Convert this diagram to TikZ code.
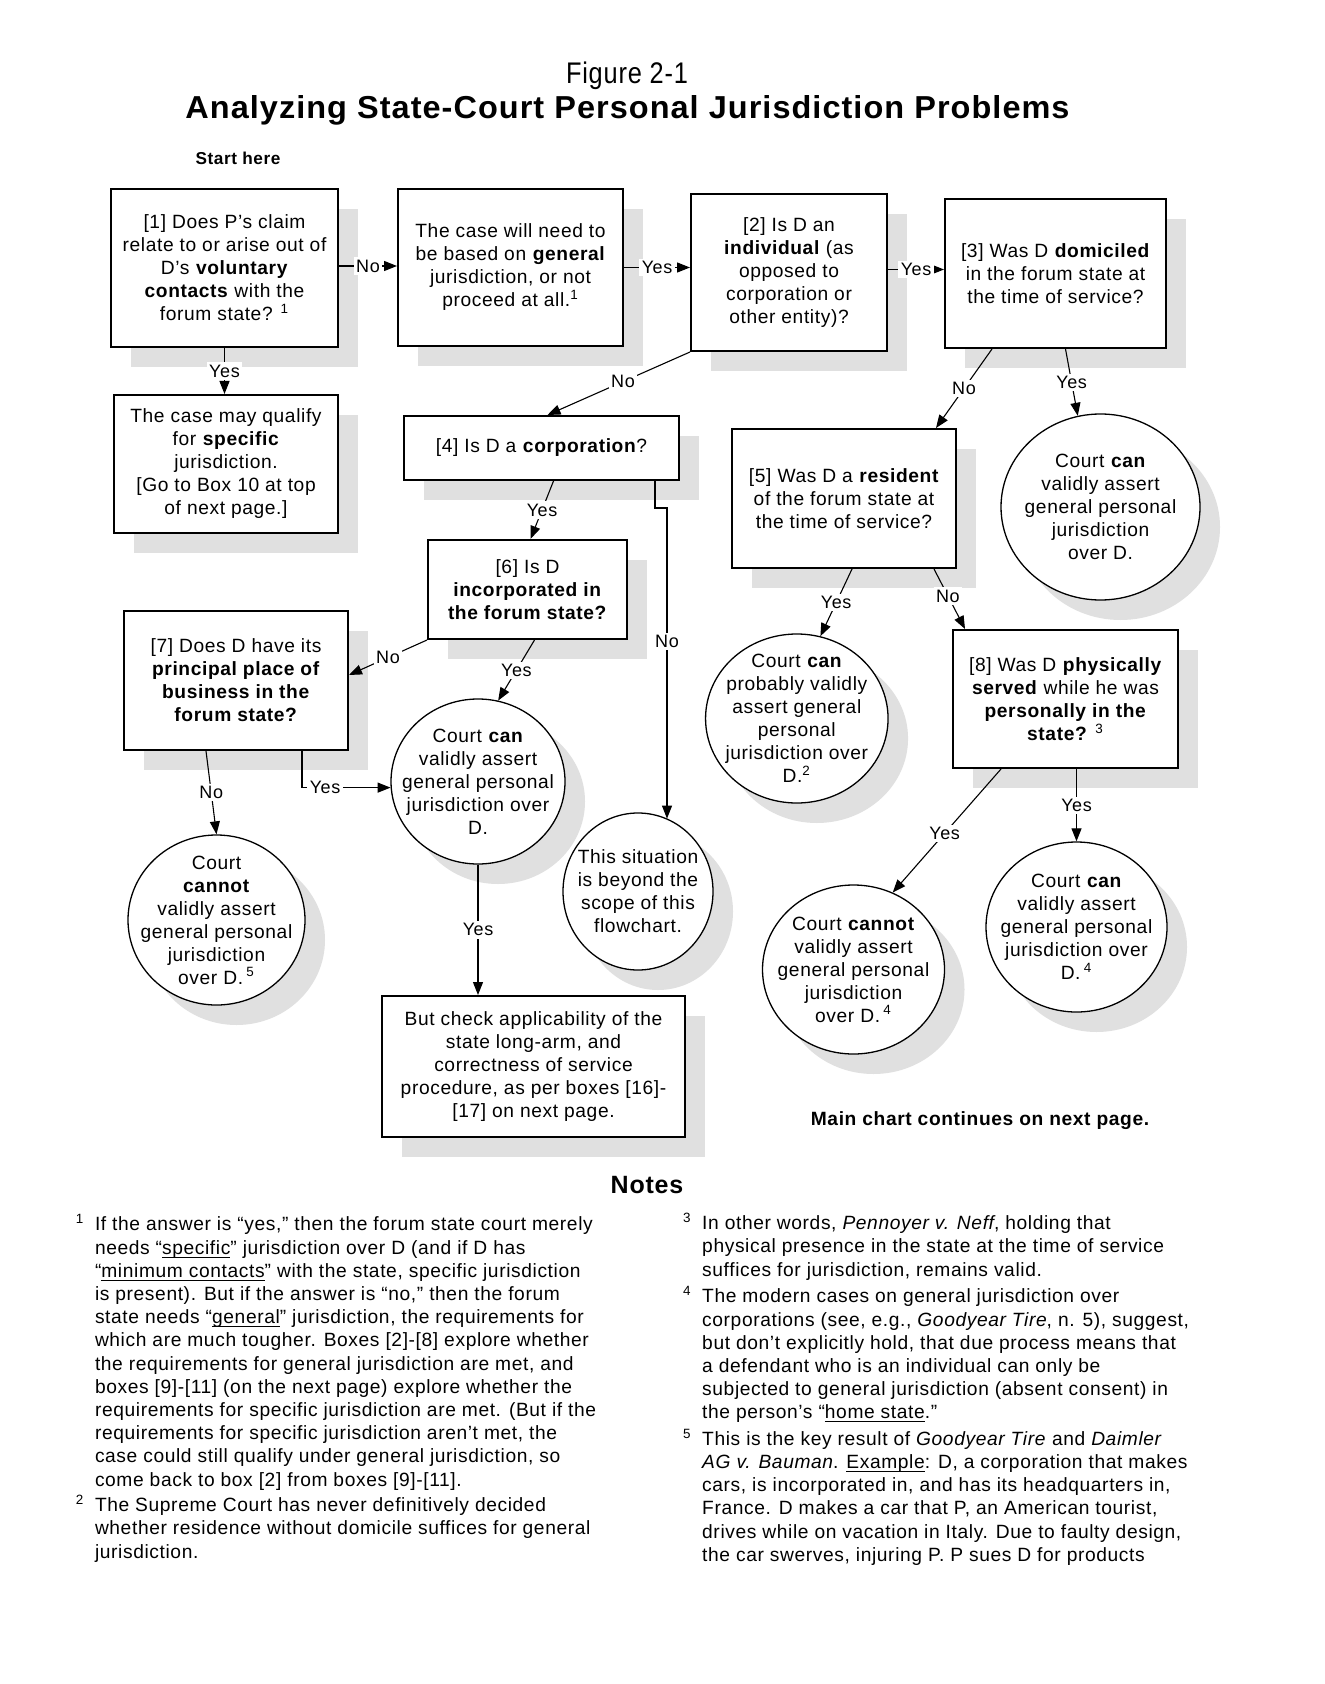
\documentclass[tikz,border=0pt]{standalone}
\usepackage{fontspec}
\setmainfont{Liberation Sans}[LetterSpace=3.2]
\usepackage{graphicx}
\usetikzlibrary{shapes.geometric,shadows,arrows.meta}
\definecolor{shadowgray}{RGB}{224,224,224}
\newcommand\myBoxFont{\fontsize{9.6pt}{11.5pt}\selectfont}
\newcommand\myNoteFont{\fontsize{9.6pt}{11.6pt}\selectfont}
\newcommand\myLabFont{\fontsize{9pt}{10pt}\selectfont}
\newcommand\myFn[1]{\textsuperscript{#1}}
\newsavebox\myUlBox
\newcommand\myUl[1]{\sbox\myUlBox{#1}\rlap{\rule[-1.7pt]{\wd\myUlBox}{0.5pt}}\usebox\myUlBox}
\tikzset{
  shad/.style={drop shadow={shadow xshift=10pt, shadow yshift=-10pt, fill=shadowgray, draw=none, opacity=1}},
  box/.style={shad, draw=black, line width=1pt, fill=white, rectangle, inner sep=0pt, align=center, font=\myBoxFont},
  ell/.style={shad, draw=black, line width=0.65pt, fill=white, ellipse, inner sep=0pt},
  etxt/.style={align=center, font=\myBoxFont, inner sep=0pt},
  lab/.style={fill=white, inner sep=1.2pt, font=\myLabFont},
  arr/.style={draw=black, line width=0.55pt, -{Triangle[length=6.5pt,width=5pt]}},
  plain/.style={inner sep=0pt},
}
\begin{document}
\begin{tikzpicture}[x=0.5pt,y=-0.5pt]
\useasboundingbox (0,0) rectangle (1325,1684);
\fill[white] (0,0) rectangle (1325,1684);

% titles
\node[plain, anchor=base] (fig) at (627,83.5) {\resizebox{61pt}{10.8pt}{Figure 2-1}};
\node[plain, anchor=base] (title) at (627.5,119) {\resizebox{442pt}{11.5pt}{\bfseries Analyzing State-Court Personal Jurisdiction Problems}};
\node[plain, font=\fontsize{8.6pt}{10pt}\selectfont\bfseries] (start) at (238,158) {Start here};

% nodes
\node[box, minimum width=113.5pt, minimum height=79pt] (box1) at (224.5,268)
  {[1] Does P’s claim\\relate to or arise out of\\D’s \textbf{voluntary}\\\textbf{contacts} with the\\forum state? \myFn{1}};
\node[box, minimum width=112.5pt, minimum height=78.5pt] (box2) at (510.5,267.5)
  {The case will need to\\be based on \textbf{general}\\jurisdiction, or not\\proceed at all.\myFn{1}};
\node[box, minimum width=98pt, minimum height=78.5pt] (b2) at (789,272.5)
  {[2] Is D an\\\textbf{individual} (as\\opposed to\\corporation or\\other entity)?};
\node[box, minimum width=110.5pt, minimum height=74.5pt] (b3) at (1055.5,273.5)
  {[3] Was D \textbf{domiciled}\\in the forum state at\\the time of service?};
\node[box, minimum width=112pt, minimum height=69pt] (mayq) at (226,464)
  {The case may qualify\\for \textbf{specific}\\jurisdiction.\\{}[Go to Box 10 at top\\of next page.]};
\node[box, minimum width=137.5pt, minimum height=32pt] (b4) at (541.5,448)
  {[4] Is D a \textbf{corporation}?};
\node[box, minimum width=112pt, minimum height=69.5pt] (b5) at (844,498.5)
  {[5] Was D a \textbf{resident}\\of the forum state at\\the time of service?};
\node[ell, minimum width=99.5pt, minimum height=93pt] (c3y) at (1100.5,507) {};
\node[etxt] (c3yt) at (c3y) {Court \textbf{can}\\validly assert\\general personal\\jurisdiction\\over D.};
\node[box, minimum width=99.5pt, minimum height=49.5pt] (b6) at (527.5,589.5)
  {[6] Is D\\\textbf{incorporated in}\\\textbf{the forum state?}};
\node[box, minimum width=112pt, minimum height=69.5pt] (b7) at (236,680.5)
  {[7] Does D have its\\\textbf{principal place of}\\\textbf{business in the}\\\textbf{forum state?}};
\node[ell, minimum width=91.25pt, minimum height=84.5pt] (cprob) at (796.8,718.5) {};
\node[etxt] (cprobt) at (cprob) {Court \textbf{can}\\probably validly\\assert general\\personal\\jurisdiction over\\D.\myFn{2}};
\node[box, minimum width=112.5pt, minimum height=69pt] (b8) at (1065.5,699)
  {[8] Was D \textbf{physically}\\\textbf{served} while he was\\\textbf{personally in the}\\\textbf{state?} \myFn{3}};
\node[ell, minimum width=87pt, minimum height=82.5pt] (cmid) at (478,781.5) {};
\node[etxt] (cmidt) at (cmid) {Court \textbf{can}\\validly assert\\general personal\\jurisdiction over\\D.};
\node[ell, minimum width=75pt, minimum height=78.5pt] (cbey) at (638,891.5) {};
\node[etxt] (cbeyt) at (cbey) {This situation\\is beyond the\\scope of this\\flowchart.};
\node[ell, minimum width=88.5pt, minimum height=85pt] (cno7) at (216.5,920) {};
\node[etxt] (cno7t) at (cno7) {Court\\\textbf{cannot}\\validly assert\\general personal\\jurisdiction\\over D.\,\myFn{5}};
\node[ell, minimum width=91pt, minimum height=84.5pt] (cno8) at (853.5,969.5) {};
\node[etxt] (cno8t) at (cno8) {Court \textbf{cannot}\\validly assert\\general personal\\jurisdiction\\over D.\,\myFn{4}};
\node[ell, minimum width=90.5pt, minimum height=85pt] (cyes8) at (1076.5,927) {};
\node[etxt] (cyes8t) at (cyes8) {Court \textbf{can}\\validly assert\\general personal\\jurisdiction over\\D.\,\myFn{4}};
\node[box, minimum width=151.5pt, minimum height=70.5pt] (chk) at (533.5,1066.5)
  {But check applicability of the\\state long-arm, and\\correctness of service\\procedure, as per boxes [16]-\\{}[17] on next page.};

\node[plain, font=\myBoxFont\bfseries] (cont) at (980,1121) {Main chart continues on next page.};

% connectors
\draw[arr] ([yshift=1pt]box1.east) -- node[lab]{No} ([yshift=1pt]box1.east -| box2.west);
\draw[arr] (box2.east) -- node[lab]{Yes} (box2.east -| b2.west);
\draw[arr] ([yshift=1.5pt]b2.east) -- node[lab]{Yes} ([yshift=1.5pt]b2.east -| b3.west);
\draw[arr] (box1.south) -- node[lab]{Yes} (box1.south |- mayq.north);
\draw[arr] (b2.south west) -- node[lab,pos=0.47]{No} ([xshift=3pt]b4.north);
\draw[arr] ([xshift=6pt]b4.south) -- node[lab]{Yes} ([xshift=1.5pt]b6.north);
\coordinate (k4) at (667,508);
\draw[arr] ([xshift=-12.5pt]b4.south east) |- (k4) -- node[lab,pos=0.43]{No} (k4 |- cbey.68);
\draw[arr] ([xshift=24pt]b3.south west) -- node[lab]{No} ([xshift=-10.5pt]b5.north east);
\draw[arr] ([xshift=5pt]b3.south) -- node[lab]{Yes} (c3y.104);
\draw[arr] ([xshift=4pt]b5.south) -- node[lab]{Yes} (cprob.74);
\draw[arr] ([xshift=-11.5pt]b5.south east) -- node[lab,pos=0.45]{No} ([xshift=6.5pt]b8.north west);
\draw[arr] ([xshift=24.5pt]b8.south west) -- node[lab,pos=0.52]{Yes} (cno8.63);
\draw[arr] (cyes8.north |- b8.south) -- node[lab]{Yes} (cyes8.north);
\draw[arr] (b6.south west) -- node[lab]{No} ([yshift=2.75pt]b7.east);
\draw[arr] ([xshift=3.5pt]b6.south) -- node[lab]{Yes} (cmid.76);
\draw[arr] ([xshift=-15pt]b7.south) -- node[lab]{No} (cno7.north);
\draw[arr] ([xshift=33pt]b7.south) |- node[lab,pos=0.63]{Yes} (cmid.184);
\draw[arr] (cmid.south) -- node[lab]{Yes} (cmid.south |- chk.north);

% notes
\node[plain, font=\fontsize{12.5pt}{14pt}\selectfont\bfseries] (notes) at (647,1185.5) {Notes};
\node[plain, anchor=north west, align=left, font=\myNoteFont] (notesL) at (94.6,1214) {%
\llap{\myFn{1}\hspace{5.3pt}}If the answer is “yes,” then the forum state court merely\\
needs “\myUl{specific}” jurisdiction over D (and if D has\\
“\myUl{minimum contacts}” with the state, specific jurisdiction\\
is present). But if the answer is “no,” then the forum\\
state needs “\myUl{general}” jurisdiction, the requirements for\\
which are much tougher. Boxes [2]-[8] explore whether\\
the requirements for general jurisdiction are met, and\\
boxes [9]-[11] (on the next page) explore whether the\\
requirements for specific jurisdiction are met. (But if the\\
requirements for specific jurisdiction aren’t met, the\\
case could still qualify under general jurisdiction, so\\
come back to box [2] from boxes [9]-[11].\\[1.2pt]
\llap{\myFn{2}\hspace{5.3pt}}The Supreme Court has never definitively decided\\
whether residence without domicile suffices for general\\
jurisdiction.};
\node[plain, anchor=north west, align=left, font=\myNoteFont] (notesR) at (701.8,1212.7) {%
\llap{\myFn{3}\hspace{5.3pt}}In other words, \textit{Pennoyer v. Neff}, holding that\\
physical presence in the state at the time of service\\
suffices for jurisdiction, remains valid.\\[1.8pt]
\llap{\myFn{4}\hspace{5.3pt}}The modern cases on general jurisdiction over\\
corporations (see, e.g., \textit{Goodyear Tire}, n. 5), suggest,\\
but don’t explicitly hold, that due process means that\\
a defendant who is an individual can only be\\
subjected to general jurisdiction (absent consent) in\\
the person’s “\myUl{home state}.”\\[1.6pt]
\llap{\myFn{5}\hspace{5.3pt}}This is the key result of \textit{Goodyear Tire} and \textit{Daimler}\\
\textit{AG v. Bauman}. \myUl{Example}: D, a corporation that makes\\
cars, is incorporated in, and has its headquarters in,\\
France. D makes a car that P, an American tourist,\\
drives while on vacation in Italy. Due to faulty design,\\
the car swerves, injuring P. P sues D for products};
\end{tikzpicture}
\end{document}
